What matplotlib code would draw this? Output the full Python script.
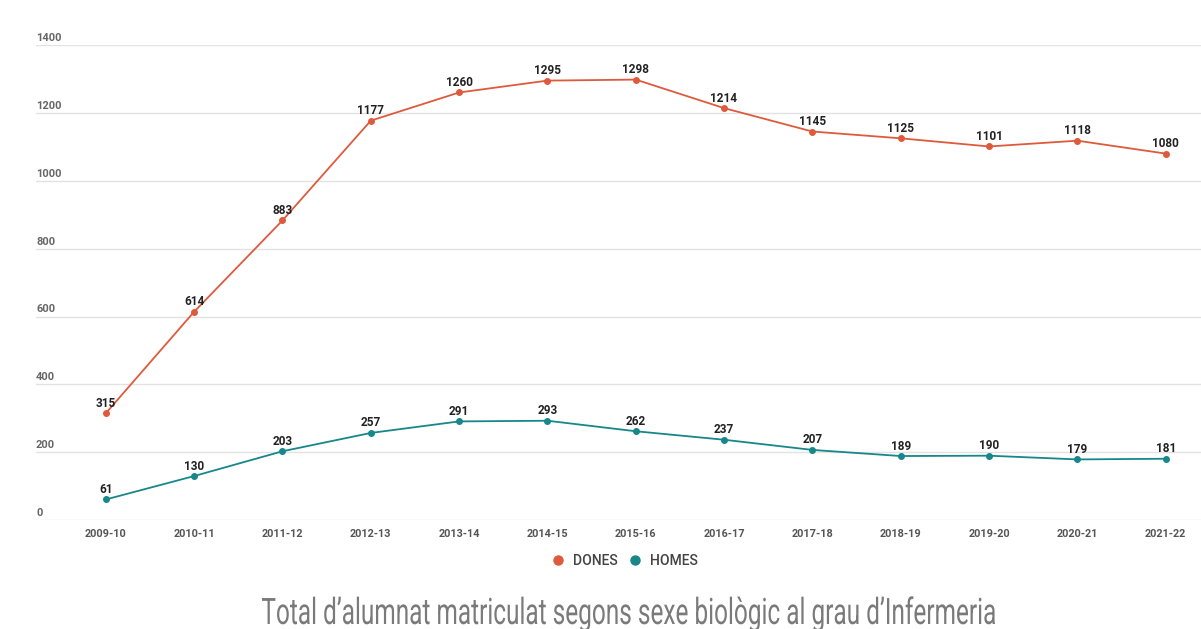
import matplotlib.pyplot as plt
from matplotlib.lines import Line2D
from matplotlib.textpath import TextPath
from matplotlib.font_manager import FontProperties
from matplotlib.patches import PathPatch
from matplotlib.transforms import Affine2D

cursos = ["2009-10", "2010-11", "2011-12", "2012-13", "2013-14", "2014-15", "2015-16",
          "2016-17", "2017-18", "2018-19", "2019-20", "2020-21", "2021-22"]
dones = [315, 614, 883, 1177, 1260, 1295, 1298, 1214, 1145, 1125, 1101, 1118, 1080]
homes = [61, 130, 203, 257, 291, 293, 262, 237, 207, 189, 190, 179, 181]
yticks = [0, 200, 400, 600, 800, 1000, 1200, 1400]
titol = "Total d\u2019alumnat matriculat segons sexe biològic al grau d\u2019Infermeria"

c_dones = "#dd5b3c"
c_homes = "#17878a"

plt.rcParams['font.family'] = ['Roboto', 'DejaVu Sans']

fig = plt.figure(figsize=(12.01, 6.29), dpi=100)
ax = fig.add_axes([0.030, 0.173, 0.970, 0.7555])

x = list(range(len(cursos)))
ax.plot(x, dones, color=c_dones, lw=1.3, marker="o", ms=4, zorder=3)
ax.plot(x, homes, color=c_homes, lw=1.3, marker="o", ms=4, zorder=3)

for serie in (dones, homes):
    for xi, v in zip(x, serie):
        ax.annotate(str(v), (xi, v), xytext=(0, 2.5), textcoords="offset points",
                    ha="center", va="bottom", fontsize=8.5, fontweight="bold", color="#222222")

ax.set_xlim(-0.79, 12.4)
ax.set_ylim(0, 1400)
ax.set_yticks(yticks)
ax.set_yticklabels([])
ax.tick_params(axis="y", length=0)
ax.grid(axis="y", color="#e2e2e2", lw=1)
ax.set_axisbelow(True)
for yt in yticks:
    ax.text(0.0, yt + 6, str(yt), transform=ax.get_yaxis_transform(), ha="left",
            va="bottom", fontsize=8, fontweight="bold", color="#666666")

ax.set_xticks(x)
ax.set_xticklabels(cursos, fontsize=7.8, fontweight="bold", color="#555555")
ax.tick_params(axis="x", length=0, pad=6)
for s in ax.spines.values():
    s.set_visible(False)

handles = [Line2D([], [], ls="", marker="o", ms=6.5, color=c_dones),
           Line2D([], [], ls="", marker="o", ms=6.5, color=c_homes)]
leg = fig.legend(handles, ["DONES", "HOMES"], loc="center", bbox_to_anchor=(0.517, 0.108),
                 ncol=2, frameon=False, handletextpad=0.1, columnspacing=0.25,
                 prop={"weight": "medium", "size": 10})
for t in leg.get_texts():
    t.set_color("#444444")

# titol condensat: es dibuixa com a camí i s'estreny horitzontalment
tp = TextPath((0, 0), titol, size=36.5, prop=FontProperties(family="Roboto", weight="normal"))
bb = tp.get_extents()
sx = 733 / bb.width
tr = Affine2D().translate(-bb.x0, 0).scale(sx, 1).translate(262, 5)
fig.patches.append(PathPatch(tp, transform=tr, color="#7a7a7a", lw=0))

fig.savefig("out.png", dpi=100)
